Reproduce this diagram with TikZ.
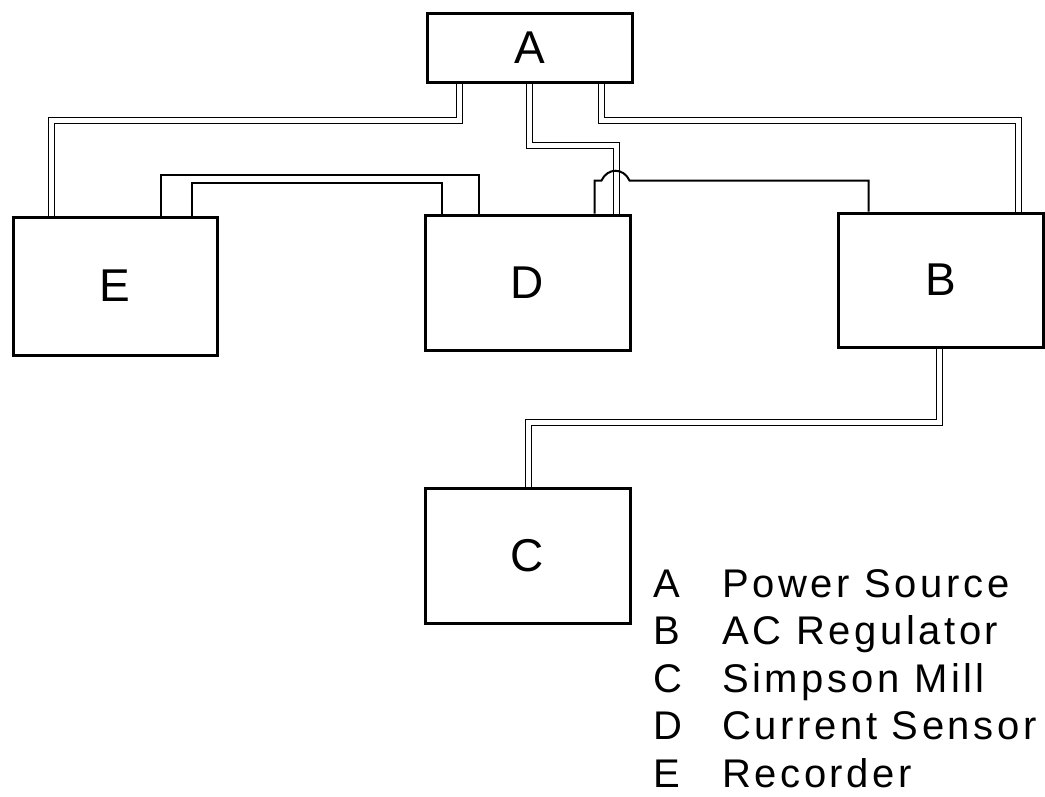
\documentclass[tikz,border=0pt]{standalone}
\usepackage{fontspec}
\setmainfont{Liberation Sans}
\usepackage{tikz}
\usetikzlibrary{calc, backgrounds}

\begin{document}
\begin{tikzpicture}[
    x=1pt, y=-1pt,
    unit/.style={rectangle, draw, line width=3pt, minimum width=205pt, inner sep=0pt, font=\fontsize{46}{46}\selectfont},
    cable/.style={double, line width=1.7pt, double distance=4.4pt},
    wire/.style={line width=2pt},
    keytext/.style={inner sep=0pt, font=\fontsize{40}{47.5}\selectfont\addfontfeature{LetterSpace=9}},
]
    \useasboundingbox (0,0) rectangle (1045,796);

    % Units
    \node[unit, minimum height=69pt] (A) at (529.5,47.5) {A};
    \node[unit, minimum width=204pt, minimum height=138pt] (E) at (115,286) {E};
    \node[unit, minimum height=135pt] (D) at (527.5,282.5) {D};
    \node[unit, minimum height=134pt] (B) at (940.5,280) {B};
    \node[unit, minimum height=135pt] (C) at (527.5,555.5) {C};

    % Key
    \node[keytext, anchor=base west] (key) at (653,597) {%
        \begin{tabular}[t]{@{}p{69pt}@{}l@{}}
            A & Power Source\\
            B & AC Regulator\\
            C & Simpson Mill\\
            D & Current Sensor\\
            E & Recorder
        \end{tabular}};

    % Cables and wires
    \begin{scope}[on background layer]
        \draw[cable] ([xshift=34pt]A.south west) -- ++(0,37) -| ([xshift=40pt]E.north west);
        \draw[cable] ([xshift=-32pt]A.south east) -- ++(0,37) -| ([xshift=-26pt]B.north east);
        \draw[cable] ([xshift=104pt]A.south west) -- ++(0,62) -| ([xshift=-15pt]D.north east);
        \draw[cable] ([xshift=103pt]B.south west) -- ++(0,74) -| ([xshift=105pt]C.north west);
        \draw[wire] ([xshift=149pt]E.north west) -- ++(0,-41) -| ([xshift=55pt]D.north west);
        \draw[wire] ([xshift=180pt]E.north west) -- ++(0,-33) -| ([xshift=18pt]D.north west);
        \draw[wire] ([xshift=-37pt]D.north east) -- ++(0,-33) -- ++(7,0)
            .. controls +(6,-13) and +(-6,-13) .. ++(28,0) -| ([xshift=32pt]B.north west);
    \end{scope}
\end{tikzpicture}
\end{document}
